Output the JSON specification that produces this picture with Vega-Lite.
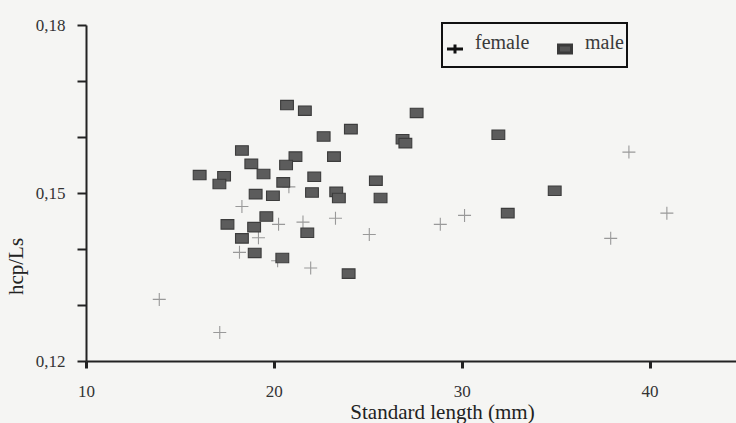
{
  "$schema": "https://vega.github.io/schema/vega-lite/v6.json",
  "width": 650,
  "height": 336,
  "autosize": {"type": "none"},
  "padding": {"left": 86, "top": 25, "right": 0, "bottom": 62},
  "background": "#f5f5f3",
  "config": {"view": {"stroke": null}, "font": "Liberation Serif", "legend": {"strokeWidth": 2}},
  "data": {
    "values": [
      {"sex": "female", "sl": 38.9, "ratio": 0.1573},
      {"sex": "female", "sl": 20.8, "ratio": 0.1511},
      {"sex": "female", "sl": 18.3, "ratio": 0.1476},
      {"sex": "female", "sl": 30.15, "ratio": 0.146},
      {"sex": "female", "sl": 40.92, "ratio": 0.1464},
      {"sex": "female", "sl": 23.28, "ratio": 0.1455},
      {"sex": "female", "sl": 21.55, "ratio": 0.1448},
      {"sex": "female", "sl": 20.25, "ratio": 0.1444},
      {"sex": "female", "sl": 28.86, "ratio": 0.1444},
      {"sex": "female", "sl": 25.08, "ratio": 0.1426},
      {"sex": "female", "sl": 19.18, "ratio": 0.142},
      {"sex": "female", "sl": 37.93, "ratio": 0.1419},
      {"sex": "female", "sl": 18.17, "ratio": 0.1394},
      {"sex": "female", "sl": 20.2, "ratio": 0.1379},
      {"sex": "female", "sl": 21.96, "ratio": 0.1366},
      {"sex": "female", "sl": 13.9, "ratio": 0.131},
      {"sex": "female", "sl": 17.12, "ratio": 0.1251},
      {"sex": "male", "sl": 20.7, "ratio": 0.1657},
      {"sex": "male", "sl": 21.65, "ratio": 0.1647},
      {"sex": "male", "sl": 27.6, "ratio": 0.1643},
      {"sex": "male", "sl": 24.1, "ratio": 0.1614},
      {"sex": "male", "sl": 22.65, "ratio": 0.1601},
      {"sex": "male", "sl": 31.95, "ratio": 0.1604},
      {"sex": "male", "sl": 26.85, "ratio": 0.1596},
      {"sex": "male", "sl": 27.0, "ratio": 0.1589},
      {"sex": "male", "sl": 18.3, "ratio": 0.1576},
      {"sex": "male", "sl": 21.15, "ratio": 0.1565},
      {"sex": "male", "sl": 23.2, "ratio": 0.1565},
      {"sex": "male", "sl": 18.8, "ratio": 0.1552},
      {"sex": "male", "sl": 20.65, "ratio": 0.155},
      {"sex": "male", "sl": 16.05, "ratio": 0.1532},
      {"sex": "male", "sl": 17.35, "ratio": 0.153},
      {"sex": "male", "sl": 19.45, "ratio": 0.1534},
      {"sex": "male", "sl": 22.15, "ratio": 0.1529},
      {"sex": "male", "sl": 17.1, "ratio": 0.1516},
      {"sex": "male", "sl": 20.5, "ratio": 0.1519},
      {"sex": "male", "sl": 25.43, "ratio": 0.1522},
      {"sex": "male", "sl": 19.03, "ratio": 0.1498},
      {"sex": "male", "sl": 19.95, "ratio": 0.1495},
      {"sex": "male", "sl": 22.03, "ratio": 0.1501},
      {"sex": "male", "sl": 23.32, "ratio": 0.1502},
      {"sex": "male", "sl": 23.46, "ratio": 0.1491},
      {"sex": "male", "sl": 25.68, "ratio": 0.1491},
      {"sex": "male", "sl": 34.95, "ratio": 0.1504},
      {"sex": "male", "sl": 19.6, "ratio": 0.1458},
      {"sex": "male", "sl": 32.45, "ratio": 0.1464},
      {"sex": "male", "sl": 17.53, "ratio": 0.1444},
      {"sex": "male", "sl": 18.95, "ratio": 0.1439},
      {"sex": "male", "sl": 21.78, "ratio": 0.1429},
      {"sex": "male", "sl": 18.3, "ratio": 0.1419},
      {"sex": "male", "sl": 18.98, "ratio": 0.1393},
      {"sex": "male", "sl": 20.45, "ratio": 0.1384},
      {"sex": "male", "sl": 23.98, "ratio": 0.1356}
    ]
  },
  "encoding": {
    "x": {
      "field": "sl",
      "type": "quantitative",
      "scale": {"domain": [10, 44.6], "nice": false, "zero": false},
      "axis": {
        "title": "Standard length (mm)",
        "values": [10, 20, 30, 40],
        "grid": false,
        "ticks": true,
        "domainColor": "#222",
        "domainWidth": 2,
        "tickColor": "#222",
        "tickWidth": 3,
        "tickSize": 7,
        "labelFont": "Liberation Serif",
        "labelFontSize": 17,
        "labelColor": "#333",
        "labelPadding": 15,
        "labelFlush": false,
        "labelOverlap": false,
        "titleFont": "Liberation Serif",
        "titleFontSize": 21,
        "titleFontWeight": "normal",
        "titleColor": "#222",
        "titleX": 356,
        "titleY": 57,
        "titleBaseline": "alphabetic",
        "titleAlign": "center"
      }
    },
    "y": {
      "field": "ratio",
      "type": "quantitative",
      "scale": {"domain": [0.12, 0.18], "nice": false, "zero": false},
      "axis": {
        "title": "hcp/Ls",
        "values": [0.12, 0.13, 0.14, 0.15, 0.16, 0.17, 0.18],
        "labelExpr": "round(datum.value*100) % 3 == 0 ? replace(format(datum.value, '.2f'), '.', ',') : ''",
        "grid": false,
        "ticks": true,
        "domainColor": "#222",
        "domainWidth": 2,
        "tickColor": "#222",
        "tickWidth": 2,
        "tickSize": 9,
        "labelFont": "Liberation Serif",
        "labelFontSize": 17,
        "labelColor": "#333",
        "labelPadding": 12,
        "labelFlush": false,
        "labelOverlap": false,
        "titleFont": "Liberation Serif",
        "titleFontSize": 21,
        "titleFontWeight": "normal",
        "titleColor": "#222",
        "titleAngle": -90,
        "titleX": -64,
        "titleY": 241,
        "titleBaseline": "alphabetic",
        "titleAlign": "center"
      }
    }
  },
  "layer": [
    {
      "mark": {"type": "point", "strokeWidth": 1.1, "opacity": 1, "fillOpacity": 1, "size": 90},
      "encoding": {
        "shape": {
          "field": "sex",
          "type": "nominal",
          "scale": {"domain": ["female", "male"], "range": ["M-1.37,0H1.37M0,-1.37V1.37", "M-1.35,-1H1.35V1H-1.35Z"]},
          "legend": null
        },
        "fill": {
          "field": "sex",
          "type": "nominal",
          "scale": {"domain": ["female", "male"], "range": ["transparent", "#5c5c5c"]},
          "legend": null
        },
        "stroke": {
          "field": "sex",
          "type": "nominal",
          "scale": {"domain": ["female", "male"], "range": ["#999999", "#3c3c3c"]},
          "legend": null
        }
      }
    },
    {
      "mark": {"type": "point", "strokeWidth": 3, "opacity": 0},
      "encoding": {
        "shape": {
          "field": "sex",
          "type": "nominal",
          "scale": {"domain": ["female", "male"], "range": ["M-1.6,0H1.6M0,-0.9V0.9", "M-1.3,-0.8H1.3V0.8H-1.3Z"]},
          "legend": {
            "title": " ",
            "titleFontSize": 4,
            "titlePadding": 4,
            "orient": "none",
            "legendX": 356,
            "legendY": -2,
            "direction": "horizontal",
            "strokeColor": "#111",
            "padding": 3,
            "clipHeight": 30,
            "symbolSize": 100,
            "symbolOpacity": 1,
            "symbolStrokeWidth": 3,
            "labelFont": "Liberation Serif",
            "labelFontSize": 20,
            "labelColor": "#3a3a3a",
            "labelBaseline": "alphabetic",
            "labelOffset": 10,
            "columnPadding": 25
          }
        },
        "fill": {
          "field": "sex",
          "type": "nominal",
          "scale": {"domain": ["female", "male"], "range": ["transparent", "#555555"]}
        },
        "stroke": {
          "field": "sex",
          "type": "nominal",
          "scale": {"domain": ["female", "male"], "range": ["#111111", "#3a3a3a"]}
        }
      }
    }
  ],
  "resolve": {"scale": {"shape": "independent", "fill": "independent", "stroke": "independent"}}
}
